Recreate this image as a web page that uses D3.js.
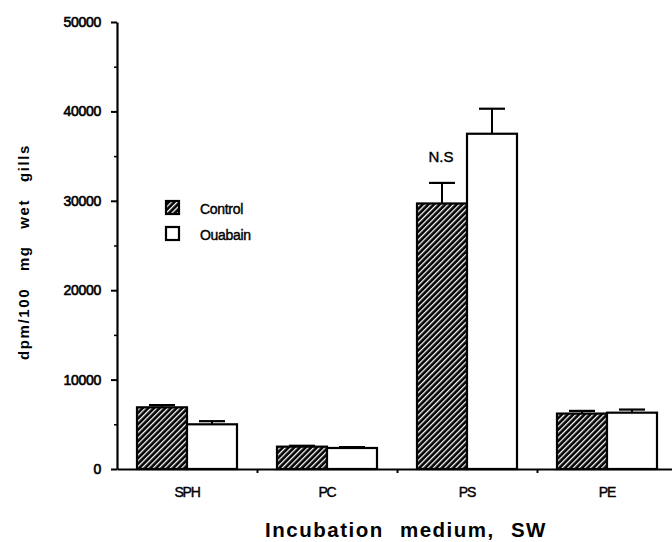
<!DOCTYPE html>
<html>
<head>
<meta charset="utf-8">
<script src="https://cdn.jsdelivr.net/npm/d3@7"></script>
<style>
  html, body { margin: 0; padding: 0; background: #fff; }
  svg { display: block; font-family: "Liberation Sans", Arial, Helvetica, sans-serif; }
</style>
</head>
<body>
<svg id="chart" width="672" height="542"></svg>
<script>
// Lipid labelling by incubation medium (seawater), control vs ouabain
const categories = ["SPH", "PC", "PS", "PE"];
const seriesNames = ["Control", "Ouabain"];
const controlMeans = [6900, 2500, 29700, 6200];
const controlErrors = [250, 100, 2300, 300];
const ouabainMeans = [5000, 2350, 37500, 6300];
const ouabainErrors = [350, 100, 2800, 350];
const yTicks = [0, 10000, 20000, 30000, 40000, 50000];
const yMinorTicks = [5000, 15000, 25000, 35000, 45000];

const svg = d3.select("#chart");
svg.append("rect").attr("width", 672).attr("height", 542).attr("fill", "#fff");

// hatch for the control bars
const defs = svg.append("defs");
const pat = defs.append("pattern")
  .attr("id", "hatch")
  .attr("patternUnits", "userSpaceOnUse")
  .attr("width", 4).attr("height", 4)
  .attr("patternTransform", "rotate(45)");
pat.append("rect").attr("width", 4).attr("height", 4).attr("fill", "#000");
pat.append("rect").attr("x", 0).attr("y", 0).attr("width", 1.3).attr("height", 4).attr("fill", "#fff");

const y = d3.scaleLinear().domain([0, 50000]).range([469, 22]);
const x0 = d3.scaleBand().domain(categories).range([117, 677]).paddingInner(0).paddingOuter(0);
const x1 = d3.scaleBand().domain(seriesNames).range([20, 120]);
const xBound = d3.scaleLinear().domain([0, categories.length]).range([117, 677]);

const rows = categories.map((c, i) => ({
  cat: c,
  vals: [
    { s: "Control", v: controlMeans[i], e: controlErrors[i] },
    { s: "Ouabain", v: ouabainMeans[i], e: ouabainErrors[i] }
  ]
}));

// bars
const groups = svg.append("g").selectAll("g").data(rows).join("g")
  .attr("transform", d => `translate(${x0(d.cat)},0)`);

// error bars (drawn before bars so the stem starts at the bar top)
groups.selectAll("g.err").data(d => d.vals).join("g").attr("class", "err")
  .each(function (d) {
    const g = d3.select(this);
    const cx = x1(d.s) + x1.bandwidth() / 2;
    g.append("line").attr("x1", cx).attr("x2", cx)
      .attr("y1", y(d.v)).attr("y2", y(d.v + d.e))
      .attr("stroke", "#000").attr("stroke-width", 2);
    g.append("line").attr("x1", cx - 13).attr("x2", cx + 13)
      .attr("y1", y(d.v + d.e)).attr("y2", y(d.v + d.e))
      .attr("stroke", "#000").attr("stroke-width", 2.2);
  });

groups.selectAll("rect").data(d => d.vals).join("rect")
  .attr("x", d => x1(d.s))
  .attr("width", x1.bandwidth())
  .attr("y", d => y(d.v))
  .attr("height", d => y(0) - y(d.v))
  .attr("fill", d => d.s === "Control" ? "url(#hatch)" : "#fff")
  .attr("stroke", "#000")
  .attr("stroke-width", 2.2);

// y axis
const yAxis = svg.append("g").attr("transform", "translate(117,0)")
  .call(d3.axisLeft(y).tickValues(yTicks).tickSize(6).tickSizeOuter(0).tickPadding(10).tickFormat(d3.format("d")));
yAxis.select(".domain").attr("stroke-width", 2.2);
yAxis.selectAll(".tick line").attr("stroke-width", 2);
yAxis.selectAll(".tick text")
  .attr("font-size", 14).attr("fill", "#000")
  .attr("stroke", "#000").attr("stroke-width", 0.6)
  .attr("letter-spacing", -0.3)
  .attr("font-family", "'Liberation Sans', Arial, sans-serif");

const yMinor = svg.append("g").attr("transform", "translate(117,0)")
  .call(d3.axisLeft(y).tickValues(yMinorTicks).tickSize(3).tickFormat(""));
yMinor.select(".domain").remove();
yMinor.selectAll(".tick line").attr("stroke-width", 1.5);

// x axis: line with ticks at the category boundaries
const xAxis = svg.append("g").attr("transform", "translate(0,469)")
  .call(d3.axisBottom(xBound).tickValues([1, 2, 3]).tickSize(4).tickSizeOuter(0).tickFormat(""));
xAxis.select(".domain").attr("stroke-width", 2.2);
xAxis.selectAll(".tick line").attr("stroke-width", 2);

// category labels
const xLab = svg.append("g").attr("transform", "translate(0,469)")
  .call(d3.axisBottom(x0).tickSize(0).tickPadding(18));
xLab.select(".domain").remove();
xLab.selectAll(".tick text")
  .attr("font-size", 14).attr("fill", "#000")
  .attr("stroke", "#000").attr("stroke-width", 0.4)
  .attr("letter-spacing", -1.2)
  .attr("font-family", "'Liberation Sans', Arial, sans-serif");

// significance note above PS control
svg.append("text")
  .attr("x", x0("PS") + x1("Control") + x1.bandwidth() / 2 - 1)
  .attr("y", 161.5)
  .attr("text-anchor", "middle")
  .attr("font-size", 15)
  .attr("stroke", "#000").attr("stroke-width", 0.4)
  .text("N.S");

// legend
const legend = svg.append("g").attr("transform", "translate(166,201)");
seriesNames.forEach((s, i) => {
  const g = legend.append("g").attr("transform", `translate(0,${i * 26})`);
  g.append("rect").attr("width", 13).attr("height", 13)
    .attr("fill", s === "Control" ? "url(#hatch)" : "#fff")
    .attr("stroke", "#000").attr("stroke-width", 2.2);
  g.append("text").attr("x", 34).attr("y", 12.5)
    .attr("font-size", 14)
    .attr("stroke", "#000").attr("stroke-width", 0.4)
    .attr("letter-spacing", -0.3)
    .text(s);
});

// axis titles
svg.append("text")
  .attr("transform", "translate(29,252) rotate(-90)")
  .attr("text-anchor", "middle")
  .attr("font-size", 15).attr("font-weight", "bold")
  .attr("letter-spacing", 1.6).attr("word-spacing", 11)
  .text("dpm/100 mg wet gills");

svg.append("text")
  .attr("x", 406).attr("y", 537)
  .attr("text-anchor", "middle")
  .attr("font-size", 20.5).attr("font-weight", "bold")
  .attr("letter-spacing", 1.5).attr("word-spacing", 9)
  .text("Incubation medium, SW");
</script>
</body>
</html>
